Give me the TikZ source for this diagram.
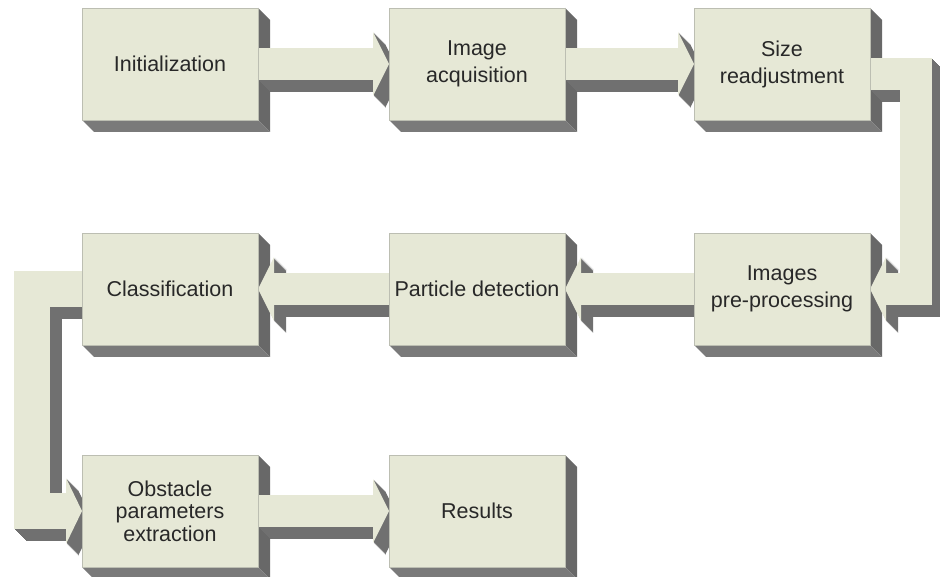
\documentclass[tikz,border=0pt]{standalone}
\usepackage{fontspec}
\setmainfont{Liberation Sans}
\usetikzlibrary{arrows.meta,calc}
\pgfdeclarelayer{boxback}
\pgfdeclarelayer{arrback}
\pgfdeclarelayer{arrfront}
\pgfsetlayers{boxback,arrback,arrfront,main}
\definecolor{boxface}{RGB}{230,232,214}
\definecolor{sidedarkR}{RGB}{104,104,104}
\definecolor{sidedarkB}{RGB}{122,122,122}
\definecolor{arrside}{RGB}{112,112,112}
\definecolor{txtcol}{RGB}{40,40,40}
\definecolor{edgecol}{RGB}{188,190,178}
\tikzset{
  stepbox/.style={draw=edgecol, line width=0.8pt, fill=boxface, minimum width=176pt,
    minimum height=112pt, outer sep=0pt, inner sep=0pt, align=center, text=txtcol,
    font=\fontsize{21.5}{27}\selectfont},
  blk/.style={line width=32pt, line join=miter,
    -{Triangle[length=16pt,width=64pt,line width=0pt]}},
  blkwide/.style={line width=36pt, line join=miter,
    -{Triangle[length=16pt,width=66pt,line width=0pt]}}
}
\newcommand\boxshade[1]{%
  \fill[sidedarkR] (#1.north east) -- ++(12,12) -- ($(#1.south east)+(12,12)$) -- (#1.south east) -- cycle;
  \fill[sidedarkB] (#1.south west) -- (#1.south east) -- ($(#1.south east)+(12,12)$) -- ($(#1.south west)+(12,12)$) -- cycle;}
\newcommand\blockconn[2][blk]{%
  \begin{pgfonlayer}{arrback}
    \foreach \i in {1,...,12}{\draw[#1,arrside,transform canvas={xshift=\i pt,yshift=-\i pt}] #2;}
  \end{pgfonlayer}
  \begin{pgfonlayer}{arrfront}
    \draw[#1,boxface] #2;
  \end{pgfonlayer}}
\begin{document}
\begin{tikzpicture}[x=1pt,y=-1pt]
  \useasboundingbox (0,0) rectangle (940,577);
  \begin{pgfonlayer}{boxback}
    \fill[white] (0,0) rectangle (940,577);
  \end{pgfonlayer}
  \node[stepbox] (b1) at (170,64) {Initialization};
  \node[stepbox] (b2) at (477,64) {Image\\acquisition};
  \node[stepbox] (b3) at (782,64) {Size\\readjustment};
  \node[stepbox] (b4) at (782,289) {Images\\pre-processing};
  \node[stepbox] (b5) at (477,289) {Particle detection};
  \node[stepbox] (b6) at (170,289) {Classification};
  \node[stepbox, font=\fontsize{21.5}{22.5}\selectfont] (b7) at (170,511) {Obstacle\\parameters\\extraction};
  \node[stepbox] (b8) at (477,511) {Results};
  \begin{pgfonlayer}{boxback}
    \foreach \b in {b1,b2,b3,b4,b5,b6,b7,b8}{\boxshade{\b}}
  \end{pgfonlayer}
  \blockconn{(b1.east) -- (b2.west)}
  \blockconn{(b2.east) -- (b3.west)}
  \blockconn{($(b3.east)+(0,10)$) -- ++(46,0) |- (b4.east)}
  \blockconn{(b4.west) -- (b5.east)}
  \blockconn{(b5.west) -- (b6.east)}
  \blockconn[blkwide]{(b6.west) -- ++(-50,0) |- (b7.west)}
  \blockconn{(b7.east) -- (b8.west)}
\end{tikzpicture}
\end{document}
